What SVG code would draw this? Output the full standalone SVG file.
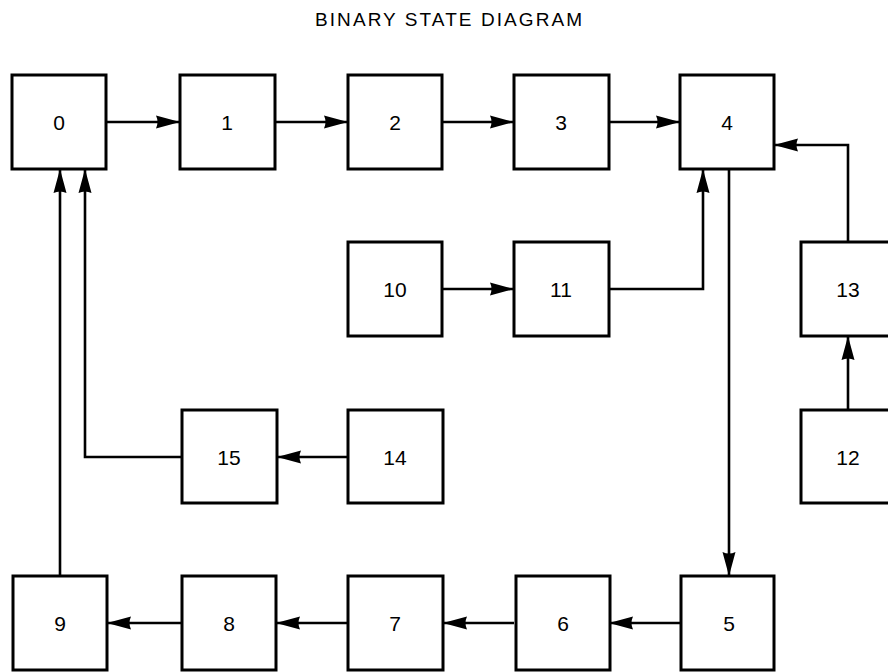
<svg xmlns="http://www.w3.org/2000/svg" width="888" height="672" viewBox="0 0 888 672">
<style>
.box{fill:#fff;stroke:#000;stroke-width:3}
.lbl{font-family:"Liberation Sans",Arial,sans-serif;font-size:21px;fill:#000;text-anchor:middle;dominant-baseline:central}
.title{font-family:"Liberation Sans",Arial,sans-serif;font-size:19px;fill:#000}
.edge{fill:none;stroke:#000;stroke-width:2.6;marker-end:url(#ah)}
</style>
<defs>
<marker id="ah" markerUnits="userSpaceOnUse" markerWidth="26" markerHeight="16" refX="24" refY="7.5" orient="auto">
<path d="M0,1 L24,7.5 L0,14 Q3,7.5 0,1 z" fill="#000"/>
</marker>
</defs>
<rect width="888" height="672" fill="#fff"/>
<text class="title" x="315" y="26" textLength="267" lengthAdjust="spacing">BINARY STATE DIAGRAM</text>
<g id="connectors">
<path class="edge" d="M106,122 H180"/>
<path class="edge" d="M275,122 H348"/>
<path class="edge" d="M442,122 H514"/>
<path class="edge" d="M609,122 H680"/>
<path class="edge" d="M442,289 H514"/>
<path class="edge" d="M609,289 H703 V169"/>
<path class="edge" d="M848,242 V145 H774"/>
<path class="edge" d="M848,410 V336"/>
<path class="edge" d="M729,169 V576"/>
<path class="edge" d="M680,623 H609"/>
<path class="edge" d="M514,623 H443"/>
<path class="edge" d="M348,623 H276"/>
<path class="edge" d="M182,623 H107"/>
<path class="edge" d="M348,457 H277"/>
<path class="edge" d="M182,457 H85 V169"/>
<path class="edge" d="M60,576 V169"/>
</g>
<g id="n0"><rect class="box" x="12" y="75" width="94" height="94"/><text class="lbl" x="59" y="122">0</text></g>
<g id="n1"><rect class="box" x="180" y="75" width="95" height="94"/><text class="lbl" x="227" y="122">1</text></g>
<g id="n2"><rect class="box" x="348" y="75" width="94" height="94"/><text class="lbl" x="395" y="122">2</text></g>
<g id="n3"><rect class="box" x="514" y="75" width="95" height="94"/><text class="lbl" x="561" y="122">3</text></g>
<g id="n4"><rect class="box" x="680" y="75" width="94" height="94"/><text class="lbl" x="727" y="122">4</text></g>
<g id="n10"><rect class="box" x="348" y="242" width="94" height="94"/><text class="lbl" x="395" y="289">10</text></g>
<g id="n11"><rect class="box" x="514" y="242" width="95" height="94"/><text class="lbl" x="561" y="289">11</text></g>
<g id="n13"><rect class="box" x="801" y="242" width="94" height="94"/><text class="lbl" x="848" y="289">13</text></g>
<g id="n15"><rect class="box" x="182" y="410" width="95" height="93"/><text class="lbl" x="229" y="457">15</text></g>
<g id="n14"><rect class="box" x="348" y="410" width="95" height="93"/><text class="lbl" x="395" y="457">14</text></g>
<g id="n12"><rect class="box" x="801" y="410" width="94" height="93"/><text class="lbl" x="848" y="457">12</text></g>
<g id="n9"><rect class="box" x="13" y="576" width="94" height="94"/><text class="lbl" x="60" y="623">9</text></g>
<g id="n8"><rect class="box" x="182" y="576" width="94" height="94"/><text class="lbl" x="229" y="623">8</text></g>
<g id="n7"><rect class="box" x="348" y="576" width="95" height="94"/><text class="lbl" x="395" y="623">7</text></g>
<g id="n6"><rect class="box" x="516" y="576" width="94" height="94"/><text class="lbl" x="563" y="623">6</text></g>
<g id="n5"><rect class="box" x="681" y="576" width="93" height="94"/><text class="lbl" x="729" y="623">5</text></g>
</svg>
